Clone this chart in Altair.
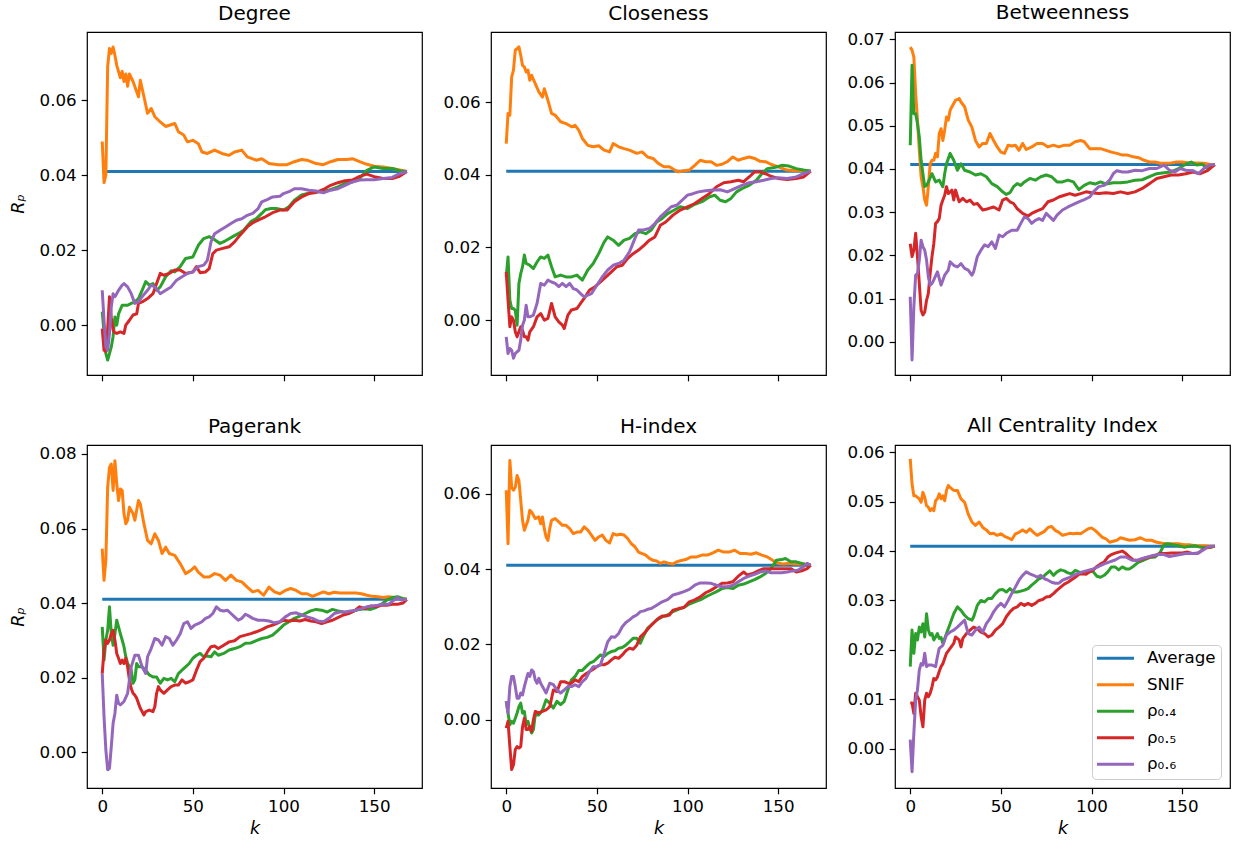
import altair as alt
import pandas as pd

SERIES = ["Average", "SNIF", "ρ₀.₄", "ρ₀.₅", "ρ₀.₆"]
COLORS = ["#1f77b4", "#ff7f0e", "#2ca02c", "#d62728", "#9467bd"]
K_TICKS = [0, 50, 100, 150]
X_DOMAIN = [-8.4, 176.4]
AVG = [(0, 0.041), (168, 0.041)]

# ---------------- Degree ----------------
DEG_SNIF = [(0,.049),(1,.038),(2,.040),(3,.069),(4,.0738),(5,.0725),(6,.0742),(7,.072),(8,.0693),(10,.066),(11,.0677),(12,.065),(13,.067),(14,.0637),(15,.067),(17,.065),(20,.0609),(21,.0653),(23,.061),(25,.0565),(27,.0578),(29,.0556),(32,.0542),(35,.053),(40,.0538),(42,.0516),(45,.0507),(47,.0489),(50,.0493),(53,.0484),(55,.0462),(58,.0458),(62,.0467),(66,.0458),(70,.0453),(73,.0462),(77,.0467),(80,.0449),(85,.044),(88,.0444),(92,.0431),(97,.0428),(102,.0428),(106,.0436),(110,.0442),(113,.044),(118,.0431),(122,.0428),(126,.0436),(130,.0442),(135,.0442),(138,.0444),(142,.0436),(146,.0429),(150,.0424),(155,.0422),(160,.0418),(164,.0414),(168,.041)]
DEG_R04 = [(0,.0036),(1,-.002),(2,-.0076),(3,-.0093),(4,-.0076),(5,-.0058),(6,-.003),(7,.0022),(8,0),(9,.003),(11,.0053),(14,.0053),(16,.0058),(18,.0062),(20,.0071),(22,.0093),(24,.0116),(26,.0107),(28,.0111),(30,.0093),(32,.0102),(35,.0129),(38,.0145),(40,.0142),(43,.0156),(46,.0178),(50,.0182),(53,.0213),(56,.0231),(59,.0236),(62,.0228),(65,.0218),(68,.0225),(72,.0236),(75,.0244),(78,.0253),(82,.0276),(85,.0284),(88,.0298),(90,.0308),(93,.0311),(96,.0311),(100,.0307),(103,.0316),(106,.0333),(110,.0347),(115,.0353),(120,.0356),(125,.036),(130,.0369),(135,.038),(138,.0382),(142,.0391),(146,.0413),(150,.0422),(155,.0418),(160,.0418),(164,.0412),(168,.041)]
DEG_R05 = [(0,-.0009),(1,-.0067),(2,-.007),(3,-.001),(4,.0076),(5,.002),(6,-.0013),(7,-.002),(8,-.0022),(10,-.0018),(12,-.0022),(13,0),(15,.0013),(17,.0027),(19,.003),(20,.0058),(22,.0062),(25,.0071),(28,.0084),(30,.0111),(32,.0138),(34,.0133),(37,.0138),(40,.0147),(43,.0147),(46,.0138),(50,.0142),(52,.0156),(54,.014),(57,.0142),(59,.0151),(61,.0191),(63,.02),(66,.0204),(70,.0209),(73,.0222),(76,.024),(80,.0262),(83,.0273),(86,.028),(90,.0289),(94,.03),(98,.0307),(102,.0307),(106,.0329),(110,.0342),(114,.0351),(118,.0354),(122,.0362),(126,.0373),(130,.038),(134,.0385),(138,.0387),(142,.0397),(146,.0403),(150,.0396),(155,.0391),(160,.0391),(164,.0397),(168,.041)]
DEG_R06 = [(0,.0093),(1,.0013),(2,-.0058),(3,-.0067),(4,-.0022),(5,.0049),(6,.0084),(7,.0076),(8,.0084),(9,.0093),(11,.0107),(12,.0111),(14,.0102),(16,.0084),(18,.0058),(20,.0062),(22,.0076),(25,.0093),(27,.0107),(29,.0102),(32,.0084),(35,.0093),(38,.0102),(41,.012),(44,.0129),(47,.0138),(50,.0142),(53,.0156),(56,.016),(58,.0173),(60,.0222),(62,.0244),(65,.0253),(68,.0262),(71,.0271),(74,.028),(77,.0284),(80,.0293),(83,.0298),(86,.0311),(88,.0329),(91,.0335),(94,.0342),(98,.0344),(100,.0351),(103,.0356),(106,.0364),(110,.0364),(114,.036),(118,.0358),(122,.0353),(126,.036),(130,.0364),(134,.0373),(138,.0382),(142,.0387),(146,.0388),(150,.0388),(155,.0391),(160,.0394),(164,.0404),(168,.041)]

# ---------------- Closeness ----------------
CLO_SNIF = [(0,.0486),(1,.0569),(2,.0564),(3,.0669),(4,.0688),(5,.0743),(6,.0747),(7,.0752),(8,.0729),(9,.0701),(10,.0697),(11,.0683),(12,.0688),(13,.066),(14,.0674),(16,.0651),(18,.0628),(20,.0614),(21,.0637),(23,.0605),(25,.0569),(27,.0564),(30,.0546),(33,.0541),(36,.0532),(38,.0536),(40,.0523),(42,.05),(45,.0481),(48,.0477),(51,.048),(54,.0468),(57,.0463),(59,.0486),(62,.0477),(65,.0472),(68,.0468),(72,.0459),(75,.0463),(78,.0449),(81,.0445),(84,.0431),(87,.0422),(90,.0422),(93,.0413),(95,.0408),(98,.0411),(101,.0413),(104,.0426),(107,.044),(110,.0436),(113,.0436),(116,.0426),(119,.0429),(122,.0436),(125,.0449),(128,.044),(131,.0445),(134,.0449),(137,.0445),(140,.0437),(143,.0436),(146,.0429),(150,.0422),(155,.0413),(160,.0411),(164,.0411),(168,.041)]
CLO_R04 = [(0,.0119),(1,.0174),(2,.0055),(3,.0032),(4,.0032),(5,.0027),(6,-.0014),(7,.0101),(8,.0128),(9,.0147),(10,.0179),(11,.0156),(13,.0151),(15,.0142),(17,.016),(19,.0174),(21,.017),(23,.0179),(25,.0147),(27,.0119),(30,.0124),(33,.0119),(36,.0119),(39,.0124),(42,.011),(45,.0138),(48,.0156),(51,.0183),(54,.0215),(56,.0229),(59,.022),(62,.0206),(65,.022),(68,.0225),(71,.0238),(74,.0243),(77,.0238),(80,.0248),(83,.027),(86,.028),(89,.0293),(92,.0301),(96,.0312),(100,.0307),(104,.0319),(108,.0326),(112,.0339),(115,.0344),(118,.033),(121,.0326),(124,.0335),(127,.0353),(130,.0362),(134,.0371),(138,.0385),(141,.0403),(144,.0417),(148,.042),(152,.0426),(156,.0424),(160,.0417),(164,.0413),(168,.041)]
CLO_R05 = [(0,.0133),(1,.0055),(2,-.0018),(3,.0009),(4,0),(5,-.0032),(6,-.0046),(7,-.0032),(8,-.0018),(9,-.0028),(10,-.0046),(11,-.0046),(12,-.0055),(13,-.0032),(15,-.0018),(17,.0009),(19,.0018),(21,0),(23,.0005),(25,.0046),(27,.0009),(29,-.0005),(31,-.0014),(32,-.0023),(34,.0014),(36,.0028),(39,.0032),(41,.0046),(43,.006),(46,.0083),(49,.0092),(52,.0105),(55,.0119),(58,.0133),(61,.0147),(64,.0151),(67,.017),(70,.0183),(73,.0193),(76,.0206),(79,.022),(82,.0229),(85,.0261),(88,.027),(92,.0289),(96,.0303),(100,.0312),(104,.0321),(108,.0335),(112,.0348),(116,.0367),(120,.0378),(124,.0381),(128,.0385),(131,.0381),(134,.0394),(137,.0408),(140,.0408),(143,.0403),(146,.0396),(150,.039),(155,.0387),(160,.039),(164,.0394),(168,.041)]
CLO_R06 = [(0,-.0046),(1,-.0092),(2,-.0078),(3,-.0083),(4,-.0105),(5,-.0092),(6,-.0087),(7,-.0083),(8,-.0055),(9,-.0014),(10,0),(11,.0041),(12,.0009),(13,.0009),(15,.0014),(17,.0046),(19,.0101),(21,.0096),(23,.011),(25,.0105),(27,.0101),(29,.0092),(31,.0101),(33,.0092),(35,.0101),(37,.0087),(39,.0083),(41,.0073),(43,.0064),(45,.0069),(47,.0073),(50,.0096),(53,.0119),(56,.0138),(59,.0151),(62,.0156),(65,.0165),(68,.0188),(71,.0225),(73,.0248),(76,.0249),(79,.0252),(82,.0266),(85,.0284),(88,.0298),(91,.0312),(94,.0316),(97,.033),(100,.0344),(103,.0348),(106,.0353),(110,.0356),(114,.0358),(118,.0359),(122,.0353),(126,.0362),(130,.0371),(134,.0378),(138,.0381),(142,.0385),(146,.039),(150,.0392),(155,.039),(160,.0394),(164,.0403),(168,.041)]

# ---------------- Betweenness ----------------
BET_SNIF = [(0,.0682),(1,.0675),(2,.0659),(3,.0574),(4,.0513),(5,.0443),(6,.0382),(7,.0359),(8,.0328),(9,.0316),(10,.0359),(11,.0412),(12,.042),(13,.042),(14,.0436),(15,.0428),(16,.0482),(17,.0493),(18,.0466),(19,.049),(20,.052),(21,.0513),(22,.0536),(23,.0544),(25,.0559),(27,.0563),(28,.0555),(30,.0544),(32,.0513),(34,.0497),(36,.0466),(38,.0451),(40,.0459),(42,.0459),(44,.0482),(46,.0466),(48,.0451),(50,.0439),(52,.0436),(54,.0455),(56,.0453),(58,.0455),(60,.0443),(62,.0459),(64,.0445),(67,.0451),(70,.0459),(73,.0459),(76,.0451),(79,.0455),(82,.0451),(85,.0455),(88,.0455),(91,.0463),(94,.0466),(96,.0463),(99,.0447),(102,.0447),(105,.0447),(108,.0443),(111,.0439),(114,.0436),(117,.0432),(120,.0432),(123,.0428),(126,.0426),(129,.042),(132,.0416),(135,.0416),(138,.0413),(141,.0413),(144,.0414),(147,.0416),(150,.0416),(154,.0414),(158,.0414),(162,.0413),(165,.0411),(168,.041)]
BET_R04 = [(0,.0455),(1,.064),(2,.0528),(3,.0528),(4,.0505),(5,.0474),(6,.042),(7,.0389),(8,.0359),(9,.0362),(10,.037),(12,.0389),(14,.037),(16,.0374),(18,.0359),(19,.0389),(20,.0412),(22,.0436),(24,.042),(26,.0397),(28,.0412),(30,.0397),(33,.0393),(36,.0386),(39,.0389),(42,.0382),(45,.0366),(48,.0359),(51,.0347),(53,.0341),(55,.0345),(57,.0359),(59,.0366),(61,.0362),(63,.037),(66,.0378),(69,.0374),(72,.0382),(75,.0386),(78,.0382),(81,.037),(84,.037),(87,.0374),(90,.037),(93,.0352),(96,.0362),(99,.0368),(102,.0365),(105,.037),(108,.0365),(112,.0368),(116,.0368),(120,.037),(124,.0374),(128,.0375),(132,.0382),(136,.0389),(140,.0391),(144,.0393),(148,.0401),(152,.0411),(155,.0416),(158,.0409),(161,.0411),(164,.0401),(168,.041)]
BET_R05 = [(0,.0227),(1,.0197),(2,.0212),(3,.0251),(4,.0197),(5,.0135),(6,.0073),(7,.0062),(8,.0069),(9,.0096),(10,.0112),(11,.0158),(12,.0197),(13,.0227),(14,.0274),(15,.0278),(16,.0285),(17,.0316),(18,.0328),(19,.0339),(20,.0359),(21,.0343),(22,.0347),(23,.0351),(24,.0328),(25,.0351),(27,.0324),(29,.0332),(31,.0324),(33,.0328),(35,.0318),(37,.032),(40,.0305),(43,.0308),(46,.0312),(49,.0305),(51,.0328),(53,.0332),(55,.0324),(57,.032),(59,.0308),(62,.0297),(65,.0291),(67,.0297),(70,.0303),(73,.0308),(76,.0324),(79,.0328),(82,.0335),(85,.0339),(88,.0343),(91,.0339),(94,.0343),(97,.0347),(100,.0345),(104,.0343),(108,.0345),(112,.0343),(116,.0347),(120,.0343),(124,.0347),(128,.0355),(132,.0366),(136,.0378),(140,.0382),(144,.0386),(148,.0386),(152,.0389),(156,.0393),(160,.0389),(164,.0396),(168,.041)]
BET_R06 = [(0,.0104),(1,-.0042),(2,.0081),(3,.0154),(4,.0158),(5,.0189),(6,.0235),(7,.022),(8,.0212),(9,.0189),(10,.015),(11,.0131),(12,.0135),(13,.0143),(15,.0162),(17,.0131),(19,.0154),(21,.0166),(22,.0185),(24,.0177),(26,.0173),(28,.0181),(30,.017),(32,.0166),(34,.0154),(35,.0162),(37,.0197),(39,.0212),(41,.0224),(43,.022),(45,.0231),(47,.0216),(49,.0247),(51,.0243),(53,.0251),(56,.0258),(59,.0258),(61,.0274),(63,.0289),(65,.0285),(67,.0274),(69,.0281),(71,.0285),(73,.0281),(75,.0297),(77,.0289),(79,.0281),(81,.0293),(84,.0305),(87,.0312),(90,.0318),(93,.0324),(96,.0329),(99,.0335),(101,.0347),(104,.0359),(107,.0362),(110,.0374),(112,.0389),(114,.0396),(117,.0393),(120,.0393),(124,.0397),(128,.0396),(132,.0401),(136,.0401),(140,.0409),(143,.0397),(146,.0393),(149,.0401),(152,.0397),(156,.0396),(159,.0389),(162,.0401),(165,.0409),(168,.041)]

# ---------------- Pagerank ----------------
PR_SNIF = [(0,.0546),(1,.0461),(2,.0515),(3,.0711),(4,.0764),(5,.0773),(6,.0702),(7,.0782),(8,.072),(9,.0675),(10,.0706),(11,.0702),(12,.064),(13,.0613),(14,.0622),(15,.0657),(17,.064),(18,.0622),(19,.0649),(20,.0675),(21,.0666),(23,.0613),(25,.0568),(27,.0559),(29,.0586),(31,.0568),(33,.0533),(35,.055),(37,.0533),(40,.0528),(43,.0506),(46,.0479),(49,.0488),(51,.0497),(53,.0483),(56,.047),(59,.047),(62,.0479),(65,.0475),(68,.0461),(71,.0475),(74,.0461),(77,.0457),(80,.0443),(83,.043),(86,.0434),(89,.0421),(92,.0443),(95,.043),(98,.0425),(101,.0434),(104,.0439),(107,.0434),(110,.0425),(113,.0425),(116,.0418),(119,.0424),(122,.043),(125,.0425),(128,.0429),(131,.0427),(134,.0427),(137,.0427),(140,.0427),(143,.0425),(146,.0421),(149,.0418),(152,.0417),(155,.0415),(158,.0417),(161,.0415),(164,.0412),(168,.041)]
PR_R04 = [(0,.0336),(1,.0247),(2,.0301),(3,.0327),(4,.039),(5,.0318),(6,.0287),(7,.0318),(8,.0354),(9,.0336),(10,.0318),(11,.0301),(12,.0283),(13,.0256),(14,.0238),(15,.0229),(16,.022),(17,.0185),(18,.0194),(19,.0238),(20,.0229),(22,.0229),(24,.022),(26,.0207),(28,.0202),(30,.0202),(32,.0185),(34,.0198),(36,.0194),(38,.0198),(40,.0189),(42,.0211),(44,.022),(46,.0229),(48,.0238),(50,.0252),(52,.026),(54,.0265),(56,.0256),(58,.0258),(60,.0256),(62,.0269),(64,.026),(67,.0265),(70,.0274),(73,.0278),(76,.0283),(79,.0292),(82,.0293),(85,.0299),(88,.0305),(91,.0308),(94,.0314),(97,.0327),(100,.0341),(103,.035),(106,.0359),(109,.0365),(112,.0372),(115,.0379),(118,.0383),(121,.0381),(124,.0376),(127,.0383),(130,.0379),(133,.0376),(136,.0372),(139,.0379),(142,.0383),(145,.0385),(148,.0383),(151,.0388),(154,.0397),(157,.0408),(160,.0415),(163,.0417),(166,.0412),(168,.041)]
PR_R05 = [(0,.0211),(1,.0274),(2,.0301),(3,.0292),(4,.0301),(5,.0318),(6,.0327),(7,.0301),(8,.0265),(9,.0252),(10,.0238),(11,.0247),(12,.0238),(13,.0252),(14,.0229),(15,.0194),(16,.0171),(17,.0158),(18,.0153),(19,.0145),(20,.0131),(21,.0118),(22,.0109),(23,.01),(24,.0109),(26,.0113),(28,.0109),(29,.0122),(30,.0158),(31,.0176),(32,.0167),(34,.0158),(36,.0167),(38,.0176),(40,.018),(42,.018),(44,.0194),(46,.0185),(48,.0189),(50,.0194),(52,.022),(54,.0243),(56,.0252),(58,.0269),(60,.0283),(62,.0285),(64,.0278),(67,.0287),(70,.0296),(73,.0299),(76,.031),(79,.0314),(82,.0318),(85,.0323),(88,.0329),(91,.0336),(94,.0341),(97,.0347),(100,.0354),(103,.0352),(106,.0354),(109,.0352),(112,.0356),(115,.0352),(118,.035),(121,.0345),(124,.035),(127,.0354),(130,.0361),(133,.0368),(136,.0372),(139,.0379),(142,.039),(145,.0385),(148,.0392),(151,.039),(154,.0394),(157,.0394),(160,.0397),(163,.0397),(166,.04),(168,.041)]
PR_R06 = [(0,.0211),(1,.0095),(2,.0006),(3,-.0047),(4,-.0043),(5,.0015),(6,.0078),(7,.0104),(8,.0153),(9,.0131),(10,.0127),(12,.0136),(14,.0158),(16,.0229),(18,.026),(20,.026),(22,.0229),(24,.0211),(25,.0256),(27,.0278),(29,.0305),(31,.0301),(33,.0287),(35,.031),(37,.0305),(39,.0287),(41,.0301),(43,.0318),(45,.0345),(47,.035),(49,.0332),(51,.0341),(53,.0345),(55,.035),(57,.0359),(59,.0363),(61,.0372),(63,.039),(65,.0381),(67,.0379),(69,.0381),(71,.0372),(73,.0363),(75,.0354),(77,.0359),(79,.037),(81,.0365),(83,.0359),(86,.0354),(89,.0354),(92,.0352),(95,.0347),(98,.035),(101,.0363),(104,.0372),(107,.0374),(110,.0368),(113,.0363),(116,.0359),(119,.0352),(122,.035),(125,.0359),(128,.0372),(131,.0376),(134,.0376),(137,.0379),(140,.0381),(143,.0385),(146,.039),(149,.0392),(152,.0394),(155,.0397),(158,.0397),(161,.0408),(163,.0415),(165,.0408),(168,.041)]

# ---------------- H-index ----------------
HI_SNIF = [(0,.0609),(1,.0467),(2,.0688),(3,.0617),(4,.0609),(5,.0617),(6,.0648),(7,.0635),(8,.0582),(9,.0529),(10,.0503),(11,.0516),(12,.0529),(13,.0556),(14,.0551),(16,.0534),(18,.0538),(19,.052),(20,.0538),(21,.0507),(22,.0485),(23,.0476),(24,.0507),(25,.0529),(27,.0534),(29,.0525),(31,.0516),(33,.0516),(35,.0507),(37,.0494),(39,.0498),(41,.0498),(43,.0512),(45,.0503),(47,.049),(49,.0476),(51,.0485),(53,.049),(55,.0476),(57,.0469),(59,.0494),(61,.049),(63,.0492),(65,.049),(67,.0481),(69,.0467),(71,.0459),(73,.0445),(75,.0441),(77,.0437),(79,.0428),(81,.0423),(83,.0421),(85,.0415),(87,.0419),(89,.0416),(92,.0413),(94,.0419),(96,.0422),(99,.0425),(102,.0432),(105,.0432),(108,.0437),(111,.0437),(114,.0443),(117,.045),(120,.0445),(123,.0445),(126,.045),(129,.0441),(132,.0441),(135,.0439),(138,.0443),(141,.0437),(144,.0432),(147,.0423),(150,.0415),(153,.0413),(156,.0415),(159,.0413),(162,.0413),(165,.0413),(168,.041)]
HI_R04 = [(0,.0049),(1,.0018),(2,-.0013),(3,-.0004),(4,-.0009),(5,.0004),(6,.0018),(7,.0035),(8,.0044),(9,.0018),(10,.0022),(11,-.0013),(12,-.0004),(13,-.0022),(14,-.0035),(15,-.0026),(16,.0013),(18,.0013),(20,.0026),(22,.0053),(24,.0044),(26,.0031),(28,.0049),(30,.004),(32,.0049),(34,.0079),(36,.0106),(38,.0115),(40,.0131),(42,.0131),(44,.0141),(46,.015),(48,.0154),(50,.0163),(52,.0172),(54,.0168),(56,.0176),(58,.0181),(60,.0183),(62,.019),(64,.0192),(66,.0198),(68,.0207),(70,.0216),(72,.0216),(74,.0203),(76,.0225),(78,.0243),(80,.0251),(83,.0265),(86,.0273),(89,.0278),(92,.0287),(95,.0293),(98,.0298),(101,.0307),(104,.0313),(107,.0318),(110,.0326),(113,.0333),(116,.034),(119,.0348),(122,.0351),(125,.0348),(128,.0357),(131,.036),(134,.0366),(137,.0372),(140,.0379),(143,.0388),(146,.0401),(149,.0423),(152,.0425),(154,.0428),(157,.0419),(160,.0419),(163,.0415),(166,.041),(168,.041)]
HI_R05 = [(0,-.0022),(1,-.0004),(2,-.0071),(3,-.0132),(4,-.0119),(5,-.0079),(6,-.0071),(7,-.0075),(8,-.0071),(9,-.0018),(10,.0004),(11,-.0026),(12,-.0026),(13,-.0018),(14,-.0031),(15,0),(16,.0022),(18,.0018),(20,.0022),(22,.0026),(24,.0035),(26,.0079),(28,.0075),(30,.0101),(32,.0101),(34,.0097),(36,.0097),(38,.0106),(40,.0101),(42,.0115),(44,.0122),(46,.0128),(48,.0134),(50,.0141),(52,.0146),(54,.0146),(56,.015),(58,.0159),(60,.0166),(62,.0163),(64,.0172),(66,.0183),(68,.019),(70,.0187),(72,.0198),(74,.022),(76,.0229),(78,.024),(80,.0251),(82,.026),(84,.0269),(86,.0275),(88,.0275),(90,.0278),(92,.0291),(95,.0295),(98,.0298),(101,.0313),(104,.0318),(107,.0326),(110,.0337),(113,.0344),(116,.0353),(119,.0362),(122,.0363),(125,.0366),(128,.0381),(131,.0392),(133,.0384),(136,.0388),(139,.0395),(142,.0401),(145,.0401),(148,.0401),(151,.0401),(154,.0401),(157,.0401),(160,.0392),(163,.0395),(166,.0401),(168,.041)]
HI_R06 = [(0,.0049),(1,.0018),(2,.0088),(3,.0115),(4,.0115),(5,.0088),(6,.0057),(7,.0057),(8,.0071),(9,.0066),(10,.0088),(11,.0106),(12,.0123),(13,.0115),(14,.0132),(15,.0128),(16,.0106),(17,.0097),(18,.011),(19,.0097),(20,.0088),(22,.0071),(24,.0097),(26,.0093),(28,.0079),(30,.0071),(32,.0079),(34,.0088),(36,.0088),(38,.0093),(40,.0088),(42,.0101),(44,.011),(46,.0128),(48,.0141),(50,.0141),(52,.0146),(54,.0176),(56,.0207),(58,.022),(60,.0219),(62,.0229),(64,.0247),(66,.0258),(68,.0265),(70,.0273),(72,.0278),(74,.0287),(76,.0289),(78,.0293),(80,.0295),(83,.0304),(86,.0313),(89,.0319),(92,.0331),(95,.0335),(98,.034),(101,.0346),(104,.0357),(107,.0363),(110,.0363),(113,.0362),(116,.0357),(119,.0353),(122,.0353),(125,.0357),(128,.0366),(131,.0375),(134,.0381),(137,.0386),(140,.0392),(143,.0395),(146,.039),(149,.039),(152,.039),(155,.0392),(158,.0395),(161,.0397),(164,.0406),(166,.0415),(168,.041)]

# ---------------- All Centrality Index ----------------
ACI_SNIF = [(0,.0587),(1,.0536),(2,.0512),(3,.0512),(4,.0509),(5,.0506),(6,.0499),(7,.0519),(8,.0509),(9,.0492),(10,.0489),(11,.0482),(12,.0486),(13,.0482),(14,.0502),(15,.0506),(16,.0516),(17,.0506),(18,.0512),(19,.0502),(20,.0523),(21,.0533),(22,.0529),(24,.0523),(26,.0523),(28,.0506),(30,.0499),(32,.0475),(34,.0459),(36,.0452),(38,.0459),(40,.0448),(42,.0443),(44,.0435),(46,.0436),(48,.0432),(50,.0435),(52,.043),(54,.0427),(56,.0423),(58,.0435),(60,.0438),(62,.0443),(64,.0438),(66,.0445),(68,.0438),(70,.0432),(72,.0436),(74,.044),(76,.0448),(78,.045),(80,.0442),(82,.0438),(84,.0432),(86,.0434),(88,.0436),(90,.0435),(92,.0436),(94,.0435),(96,.044),(98,.0445),(100,.0447),(102,.0442),(104,.0435),(106,.0428),(108,.0425),(110,.0418),(112,.042),(114,.0422),(116,.0427),(118,.0425),(121,.0422),(124,.0423),(127,.0427),(130,.0422),(133,.0422),(136,.0418),(139,.0416),(142,.0415),(145,.0415),(148,.0415),(151,.0413),(154,.0413),(157,.0411),(160,.0411),(163,.0411),(166,.041),(168,.041)]
ACI_R04 = [(0,.0166),(1,.024),(2,.0193),(3,.0233),(4,.022),(5,.0246),(6,.0236),(7,.0253),(8,.0226),(9,.0273),(10,.024),(11,.023),(12,.0233),(13,.022),(14,.0226),(15,.0233),(16,.0223),(17,.0225),(18,.0213),(20,.0233),(22,.0253),(24,.0273),(26,.0287),(28,.028),(30,.027),(32,.0263),(34,.026),(35,.0267),(37,.029),(39,.03),(41,.0297),(43,.0304),(45,.0304),(47,.0314),(49,.0321),(51,.0322),(53,.0317),(55,.0324),(57,.0317),(59,.0317),(61,.0319),(63,.0321),(65,.0324),(67,.0331),(69,.0337),(71,.0344),(73,.0347),(75,.0354),(77,.036),(79,.0351),(81,.0358),(83,.0362),(85,.036),(87,.0356),(89,.0354),(91,.0361),(93,.0358),(95,.0356),(97,.0356),(99,.036),(101,.0358),(103,.0349),(105,.0347),(107,.0351),(109,.0358),(111,.0368),(113,.0368),(115,.0362),(117,.0368),(119,.0364),(121,.0364),(123,.0369),(126,.0378),(129,.0382),(132,.0387),(135,.0388),(138,.0398),(140,.0413),(142,.0415),(145,.0413),(148,.0411),(151,.0408),(154,.041),(157,.0411),(160,.0408),(163,.0408),(166,.0408),(168,.041)]
ACI_R05 = [(0,.0092),(1,.0092),(2,.0071),(3,.0112),(4,.0105),(5,.0098),(6,.0065),(7,.0044),(8,.0098),(9,.0112),(10,.0105),(11,.0112),(12,.0125),(13,.0142),(14,.0139),(15,.0145),(16,.0156),(17,.0166),(18,.0172),(20,.0193),(22,.0203),(24,.0213),(25,.0226),(27,.022),(28,.0206),(29,.0223),(31,.0233),(33,.024),(35,.0246),(37,.0243),(39,.0236),(41,.0233),(43,.0226),(45,.023),(47,.024),(49,.0246),(51,.0253),(53,.0267),(55,.0277),(57,.0284),(59,.0287),(61,.0294),(63,.029),(65,.0294),(67,.029),(69,.0294),(71,.03),(73,.0302),(75,.0307),(77,.0308),(79,.0314),(81,.0321),(83,.0327),(85,.0333),(87,.0337),(89,.0342),(91,.0347),(93,.0353),(95,.0354),(97,.0353),(99,.0358),(101,.0362),(103,.0369),(105,.0374),(107,.0378),(109,.0388),(111,.0393),(113,.0396),(115,.0398),(117,.04),(119,.0395),(121,.0388),(123,.0382),(126,.0381),(129,.0385),(132,.0388),(135,.0391),(138,.0395),(141,.0395),(144,.0396),(147,.0396),(150,.0396),(153,.0398),(156,.0395),(159,.0396),(162,.0405),(165,.0408),(168,.041)]
ACI_R06 = [(0,.0018),(1,-.0047),(2,.0031),(3,.0098),(4,.0119),(5,.0159),(6,.0172),(7,.0169),(8,.0193),(9,.0166),(10,.0169),(12,.0169),(14,.0166),(15,.0186),(16,.0203),(18,.0209),(20,.023),(22,.0236),(24,.024),(26,.0246),(28,.0253),(30,.026),(31,.0246),(32,.0233),(34,.023),(36,.024),(38,.0246),(40,.0236),(42,.0253),(44,.0263),(46,.0277),(48,.0287),(50,.0294),(52,.0287),(54,.03),(56,.0314),(58,.0327),(60,.0341),(62,.0351),(64,.0358),(66,.0354),(68,.0351),(70,.0347),(72,.0351),(74,.0344),(76,.0341),(78,.0337),(80,.0335),(82,.0335),(84,.0341),(86,.0344),(88,.0347),(90,.0351),(92,.0354),(95,.0358),(98,.0361),(101,.0364),(104,.0369),(107,.0374),(110,.0378),(113,.0382),(116,.0388),(119,.0388),(122,.0382),(125,.0381),(128,.0385),(131,.0388),(134,.0391),(137,.0393),(140,.0393),(143,.0389),(146,.0391),(149,.0393),(152,.0395),(155,.0395),(158,.0395),(161,.0401),(164,.0408),(166,.041),(168,.041)]

PANELS = [
    ("Degree", [AVG, DEG_SNIF, DEG_R04, DEG_R05, DEG_R06], [-0.0133, 0.0782], [0, 0.02, 0.04, 0.06]),
    ("Closeness", [AVG, CLO_SNIF, CLO_R04, CLO_R05, CLO_R06], [-0.0151, 0.0793], [0, 0.02, 0.04, 0.06]),
    ("Betweenness", [AVG, BET_SNIF, BET_R04, BET_R05, BET_R06], [-0.0077, 0.0717], [0, 0.01, 0.02, 0.03, 0.04, 0.05, 0.06, 0.07]),
    ("Pagerank", [AVG, PR_SNIF, PR_R04, PR_R05, PR_R06], [-0.0096, 0.0824], [0, 0.02, 0.04, 0.06, 0.08]),
    ("H-index", [AVG, HI_SNIF, HI_R04, HI_R05, HI_R06], [-0.0181, 0.0729], [0, 0.02, 0.04, 0.06]),
    ("All Centrality Index", [AVG, ACI_SNIF, ACI_R04, ACI_R05, ACI_R06], [-0.008, 0.0615], [0, 0.01, 0.02, 0.03, 0.04, 0.05, 0.06]),
]

FONT = "DejaVu Sans"


def make_panel(i, title, series, ydom, yticks):
    rows = []
    for name, pts in zip(SERIES, series):
        for k, v in pts:
            rows.append({"k": k, "v": v, "s": name})
    df = pd.DataFrame(rows)
    left = i % 3 == 0
    bottom = i >= 3
    xaxis = dict(values=K_TICKS, labels=bottom)
    xaxis["title"] = "k" if bottom else None
    yaxis = dict(values=yticks, format=".2f", titlePadding=12)
    yaxis["title"] = "Rₚ" if left else None
    if i == 5:
        legend = alt.Legend(
            title=None, orient="bottom-right", offset=9, padding=5,
            strokeColor="#cccccc", fillColor="rgba(255,255,255,0.8)", cornerRadius=4,
            symbolType="M-1.67,0H5.73", symbolSize=100, symbolStrokeWidth=3,
            labelFont=FONT, labelFontSize=16.7, labelColor="black",
            labelOffset=33.3, rowPadding=8.5,
        )
    else:
        legend = None
    return (
        alt.Chart(df, title=title)
        .mark_line(strokeWidth=3, strokeJoin="round")
        .encode(
            x=alt.X("k:Q", scale=alt.Scale(domain=X_DOMAIN, nice=False, zero=False), axis=alt.Axis(**xaxis)),
            y=alt.Y("v:Q", scale=alt.Scale(domain=ydom, nice=False, zero=False), axis=alt.Axis(**yaxis)),
            color=alt.Color("s:N", scale=alt.Scale(domain=SERIES, range=COLORS), legend=legend),
        )
        .properties(width=335, height=343)
    )


charts = [make_panel(i, *p) for i, p in enumerate(PANELS)]

row1 = alt.hconcat(*charts[:3], spacing=19).resolve_scale(color="independent").resolve_legend(color="independent")
row2 = alt.hconcat(*charts[3:], spacing=19).resolve_scale(color="independent").resolve_legend(color="independent")

chart = (
    alt.vconcat(row1, row2, spacing=33)
    .resolve_scale(color="independent")
    .resolve_legend(color="independent")
    .properties(padding={"left": 8, "top": 2, "right": 0, "bottom": 0}, background="white")
    .configure_view(stroke="black", strokeWidth=1.2)
    .configure_axis(
        domain=False, grid=False, tickColor="black", tickSize=5.8, tickWidth=1.2,
        labelFont=FONT, labelFontSize=16.7, labelColor="black", labelPadding=5,
        titleFont=FONT, titleFontSize=17.5, titleFontWeight="normal", titleFontStyle="italic",
        titleColor="black",
    )
    .configure_title(font=FONT, fontSize=20, fontWeight="normal", color="black", offset=8, anchor="middle")
)

chart.save("out.html", embed_options={"renderer": "svg", "actions": False})
